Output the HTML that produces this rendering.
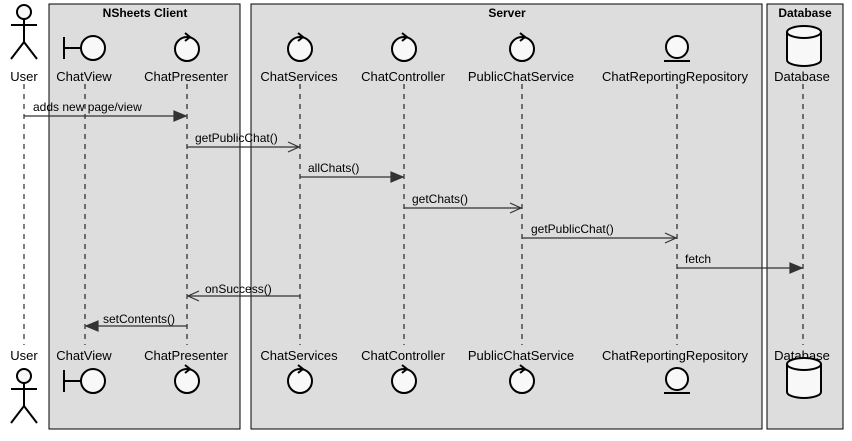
<!DOCTYPE html>
<html><head><style>body{margin:0;background:#fff}svg{display:block}text{font-family:"Liberation Sans",sans-serif;font-size:13px;fill:#000}</style></head><body>
<svg width="852" height="441" viewBox="0 0 852 441">
<g fill="#ddd" stroke="#000" stroke-width="1">
<rect x="49" y="4" width="191" height="425"/>
<rect x="251" y="4" width="511" height="425"/>
<rect x="767" y="4" width="76" height="425"/>
</g>
<g font-weight="bold" text-anchor="middle">
<text x="145" y="17" style="font-weight:bold;font-size:12px">NSheets Client</text>
<text x="507" y="17" style="font-weight:bold;font-size:12px">Server</text>
<text x="805" y="17" style="font-weight:bold;font-size:12px">Database</text>
</g>
<g stroke="#000" stroke-dasharray="5,5" stroke-width="1">
<line x1="24" y1="84" x2="24" y2="345"/><line x1="85" y1="84" x2="85" y2="345"/><line x1="187" y1="84" x2="187" y2="345"/><line x1="300" y1="84" x2="300" y2="345"/><line x1="404" y1="84" x2="404" y2="345"/><line x1="522" y1="84" x2="522" y2="345"/><line x1="677" y1="84" x2="677" y2="345"/><line x1="803" y1="84" x2="803" y2="345"/>
</g>
<g text-anchor="middle">
<text x="24" y="81">User</text><text x="84" y="81">ChatView</text><text x="186" y="81">ChatPresenter</text><text x="299" y="81">ChatServices</text><text x="403" y="81">ChatController</text><text x="521" y="81">PublicChatService</text><text x="675" y="81">ChatReportingRepository</text><text x="802" y="81">Database</text>
<text x="24" y="360">User</text><text x="84" y="360">ChatView</text><text x="186" y="360">ChatPresenter</text><text x="299" y="360">ChatServices</text><text x="403" y="360">ChatController</text><text x="521" y="360">PublicChatService</text><text x="675" y="360">ChatReportingRepository</text><text x="802" y="360">Database</text>
</g>
<defs>
<g id="actor" fill="#f8f8f8" stroke="#000" stroke-width="2"><circle cx="0" cy="0" r="7"/><line x1="0" y1="7" x2="0" y2="30" fill="none"/><line x1="-13" y1="13" x2="13" y2="13"/><line x1="0" y1="30" x2="-13" y2="47"/><line x1="0" y1="30" x2="13" y2="47"/></g>
<g id="bound" fill="#f8f8f8" stroke="#000" stroke-width="2"><line x1="-21" y1="-11" x2="-21" y2="11"/><line x1="-21" y1="0" x2="-4" y2="0"/><circle cx="8" cy="0" r="12"/></g>
<g id="ctrl" fill="#f8f8f8" stroke="#000" stroke-width="2"><circle cx="0" cy="0" r="12"/><path d="M-2,-16 L3,-12 L-2,-8" fill="none"/></g>
<g id="ent" fill="#f8f8f8" stroke="#000" stroke-width="2"><circle cx="0" cy="0" r="11"/><line x1="-13" y1="14" x2="13" y2="14"/></g>
<g id="db" fill="#f8f8f8" stroke="#000" stroke-width="2"><path d="M-17,-14 L-17,14 A17,6 0 0 0 17,14 L17,-14 A17,6 0 0 0 -17,-14 Z"/><path d="M-17,-14 A17,6 0 0 0 17,-14" fill="none"/></g>
</defs>
<use href="#actor" x="24" y="12"/><use href="#actor" x="24" y="376"/>
<use href="#bound" x="85" y="48"/><use href="#bound" x="85" y="381"/>
<g><use href="#ctrl" x="187" y="49"/><use href="#ctrl" x="187" y="381"/><use href="#ctrl" x="300" y="49"/><use href="#ctrl" x="300" y="381"/><use href="#ctrl" x="404" y="49"/><use href="#ctrl" x="404" y="381"/><use href="#ctrl" x="522" y="49"/><use href="#ctrl" x="522" y="381"/></g>
<use href="#ent" x="677" y="47"/><use href="#ent" x="677" y="379"/>
<use href="#db" x="804" y="46"/><use href="#db" x="804" y="378"/>
<g stroke="#333" stroke-width="1.2" fill="none">
<line x1="24" y1="116" x2="186" y2="116"/><path d="M174,111 L186,116 L174,121 Z" fill="#333"/>
<line x1="187" y1="147" x2="299" y2="147"/><path d="M288,142 L299,147 L288,152"/>
<line x1="300" y1="177" x2="403" y2="177"/><path d="M391,172 L403,177 L391,182 Z" fill="#333"/>
<line x1="404" y1="208" x2="521" y2="208"/><path d="M510,203 L521,208 L510,213"/>
<line x1="522" y1="238" x2="676" y2="238"/><path d="M665,233 L676,238 L665,243"/>
<line x1="677" y1="268" x2="802" y2="268"/><path d="M790,263 L802,268 L790,273 Z" fill="#333"/>
<line x1="300" y1="296" x2="188" y2="296"/><path d="M199,291 L188,296 L199,301"/>
<line x1="187" y1="326" x2="86" y2="326"/><path d="M98,321 L86,326 L98,331 Z" fill="#333"/>
</g>
<g style="font-size:12px">
<text x="33" y="111" style="font-size:12px">adds new page/view</text>
<text x="195" y="142" style="font-size:12px">getPublicChat()</text>
<text x="308" y="172" style="font-size:12px">allChats()</text>
<text x="412" y="203" style="font-size:12px">getChats()</text>
<text x="531" y="233" style="font-size:12px">getPublicChat()</text>
<text x="685" y="263" style="font-size:12px">fetch</text>
<text x="205" y="293" style="font-size:12px">onSuccess()</text>
<text x="103" y="323" style="font-size:12px">setContents()</text>
</g>
</svg>
</body></html>
